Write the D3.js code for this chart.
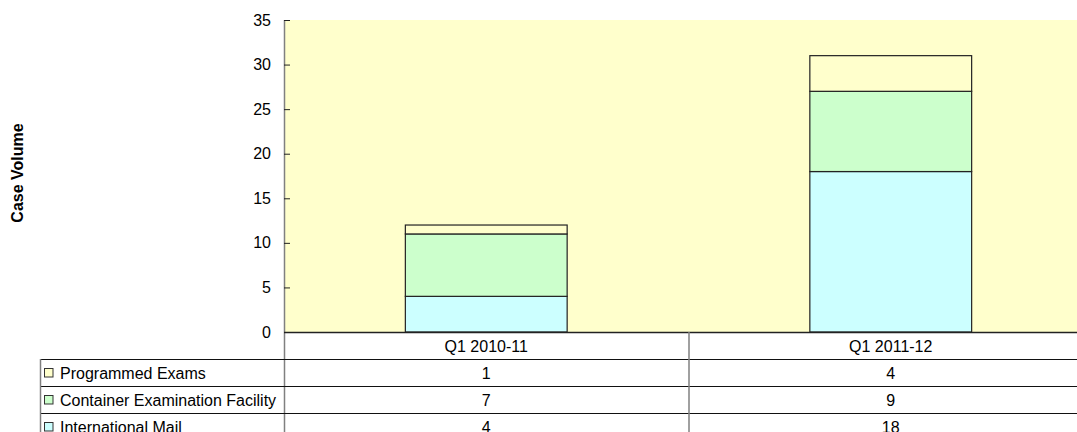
<!DOCTYPE html>
<html>
<head>
<meta charset="utf-8">
<script src="https://cdn.jsdelivr.net/npm/d3@7"></script>
<style>
  body { margin: 0; background: #fff; }
  svg { display: block; font-family: "Liberation Sans", Arial, sans-serif; }
</style>
</head>
<body>
<svg id="chart"></svg>
<script>
// data
var categories = ["Q1 2010-11", "Q1 2011-12"];
var seriesNames = ["International Mail", "Container Examination Facility", "Programmed Exams"];
var internationalMail = [4, 18];
var containerFacility = [7, 9];
var programmedExams = [1, 4];
var yTicks = [0, 5, 10, 15, 20, 25, 30, 35];

var seriesColors = ["#CCFFFF", "#CCFFCC", "#FFFFCC"];

var svgWidth = 1077, svgHeight = 432;
var fontSize = 16;

/*
    LAYOUT
*/
var plot = { left: 284, right: 1093, top: 20, bottom: 332 };
var rowH = 27;
var tableLeft = 40;

var svg = d3.select("#chart")
    .attr("width", svgWidth)
    .attr("height", svgHeight);

// rows for the stack
var rows = categories.map(function(c, i) {
    return {
        cat: c,
        "International Mail": internationalMail[i],
        "Container Examination Facility": containerFacility[i],
        "Programmed Exams": programmedExams[i]
    };
});
var stacked = d3.stack().keys(seriesNames)(rows);

/*
    SCALES
*/
var xScale = d3.scaleBand()
    .domain(categories)
    .range([plot.left, plot.right])
    .paddingInner(0).paddingOuter(0);

var yScale = d3.scaleLinear()
    .domain([0, 35])
    .range([plot.bottom, plot.top]);

// plot background
svg.append("rect")
    .attr("x", plot.left)
    .attr("y", plot.top)
    .attr("width", plot.right - plot.left)
    .attr("height", plot.bottom - plot.top)
    .attr("fill", "#FFFFCC");

/*
    BARS
*/
var barW = xScale.bandwidth() * 0.4;

svg.append("g")
    .selectAll("g")
    .data(stacked)
    .join("g")
    .attr("fill", function(d, i) { return seriesColors[i]; })
    .selectAll("rect")
    .data(function(d) { return d; })
    .join("rect")
    .attr("x", function(d) { return xScale(d.data.cat) + (xScale.bandwidth() - barW) / 2; })
    .attr("y", function(d) { return yScale(d[1]); })
    .attr("width", barW)
    .attr("height", function(d) { return yScale(d[0]) - yScale(d[1]); })
    .attr("stroke", "#222")
    .attr("stroke-width", 1.2);

/*
    Y AXIS (ticks point inward)
*/
var yAxis = d3.axisRight(yScale)
    .tickValues(yTicks)
    .tickSize(6)
    .tickFormat(d3.format("d"));

var gy = svg.append("g")
    .attr("transform", "translate(" + plot.left + ",0)")
    .call(yAxis);
gy.select(".domain").attr("stroke", "#808080").attr("stroke-width", 1.5)
    .attr("d", "M0.5," + plot.top + "V" + svgHeight);
gy.selectAll(".tick line").attr("stroke", "#222");
gy.selectAll(".tick text")
    .attr("x", -13)
    .attr("text-anchor", "end")
    .attr("font-size", fontSize)
    .attr("fill", "#000")
    .attr("font-family", "Liberation Sans, Arial, sans-serif");

// y title
svg.append("text")
    .attr("transform", "translate(23," + 173 + ") rotate(-90)")
    .attr("text-anchor", "middle")
    .attr("font-weight", "bold")
    .attr("font-size", fontSize)
    .text("Case Volume");

/*
    DATA TABLE
*/
var table = svg.append("g");
var tableRows = [
    { name: "Programmed Exams", values: programmedExams, color: seriesColors[2] },
    { name: "Container Examination Facility", values: containerFacility, color: seriesColors[1] },
    { name: "International Mail", values: internationalMail, color: seriesColors[0] }
];

// x axis line / header top
table.append("line")
    .attr("x1", plot.left).attr("x2", svgWidth + 20)
    .attr("y1", plot.bottom + 0.5).attr("y2", plot.bottom + 0.5)
    .attr("stroke", "#222").attr("stroke-width", 1.5);

// category header
table.selectAll("text.cat")
    .data(categories)
    .join("text")
    .attr("class", "cat")
    .attr("x", function(d) { return xScale(d) + xScale.bandwidth() / 2; })
    .attr("y", plot.bottom + rowH / 2 + 6)
    .attr("text-anchor", "middle")
    .attr("font-size", fontSize)
    .text(function(d) { return d; });

// horizontal row lines
tableRows.forEach(function(r, i) {
    var top = plot.bottom + rowH * (i + 1);
    table.append("line")
        .attr("x1", tableLeft).attr("x2", svgWidth + 20)
        .attr("y1", top + 0.5).attr("y2", top + 0.5)
        .attr("stroke", "#111").attr("stroke-width", 1.2);

    table.append("rect")
        .attr("x", tableLeft + 4.5).attr("y", top + rowH / 2 - 4)
        .attr("width", 8.5).attr("height", 8.5)
        .attr("fill", r.color).attr("stroke", "#333").attr("stroke-width", 1);

    table.append("text")
        .attr("x", tableLeft + 20)
        .attr("y", top + rowH / 2 + 6)
        .attr("font-size", fontSize)
        .text(r.name);

    table.selectAll(null)
        .data(r.values)
        .join("text")
        .attr("x", function(d, j) { return xScale(categories[j]) + xScale.bandwidth() / 2; })
        .attr("y", top + rowH / 2 + 6)
        .attr("text-anchor", "middle")
        .attr("font-size", fontSize)
        .text(function(d) { return d; });
});

// vertical lines
table.append("line")
    .attr("x1", tableLeft + 0.5).attr("x2", tableLeft + 0.5)
    .attr("y1", plot.bottom + rowH).attr("y2", svgHeight)
    .attr("stroke", "#808080").attr("stroke-width", 1.5);

table.selectAll("line.div")
    .data(categories.slice(1))
    .join("line")
    .attr("class", "div")
    .attr("x1", function(d) { return xScale(d) + 0.5; })
    .attr("x2", function(d) { return xScale(d) + 0.5; })
    .attr("y1", plot.bottom).attr("y2", svgHeight)
    .attr("stroke", "#808080").attr("stroke-width", 1.5);
</script>
</body>
</html>
